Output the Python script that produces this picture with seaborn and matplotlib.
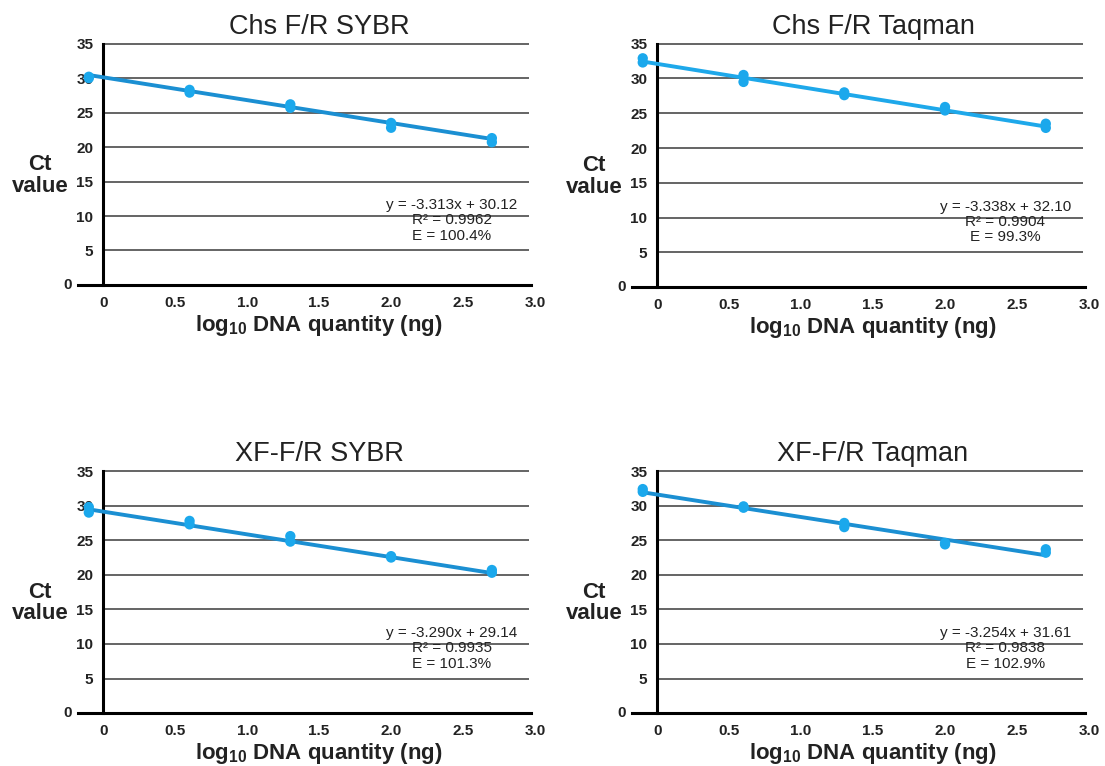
import numpy as np
import pandas as pd
import matplotlib
matplotlib.use("Agg")
import matplotlib.pyplot as plt
import seaborn as sns

sns.set_style("white")
plt.rcParams['font.family'] = ['Liberation Sans', 'DejaVu Sans']
plt.rcParams['mathtext.default'] = 'regular'

# replicate Ct values
x_chs_sybr = [-0.1, -0.1, 0.6, 0.6, 1.3, 1.3, 2.0, 2.0, 2.7, 2.7]
y_chs_sybr = [30.2, 30.0, 28.3, 27.9, 26.2, 25.7, 23.5, 22.8, 21.3, 20.7]

x_chs_taq = [-0.1, -0.1, 0.6, 0.6, 1.3, 1.3, 2.0, 2.0, 2.7, 2.7]
y_chs_taq = [32.9, 32.3, 30.5, 29.5, 28.0, 27.6, 25.9, 25.4, 23.5, 22.9]

x_xf_sybr = [-0.1, -0.1, 0.6, 0.6, 1.3, 1.3, 2.0, 2.0, 2.7, 2.7]
y_xf_sybr = [29.8, 29.0, 27.8, 27.3, 25.6, 24.8, 22.7, 22.5, 20.7, 20.3]

x_xf_taq = [-0.1, -0.1, 0.6, 0.6, 1.3, 1.3, 2.0, 2.0, 2.7, 2.7]
y_xf_taq = [32.4, 32.0, 29.9, 29.7, 27.5, 26.9, 24.6, 24.4, 23.7, 23.2]

titles = ["Chs F/R SYBR", "Chs F/R Taqman", "XF-F/R SYBR", "XF-F/R Taqman"]
slopes = [-3.313, -3.338, -3.290, -3.254]
intercepts = [30.12, 32.10, 29.14, 31.61]
r2 = ["0.9962", "0.9904", "0.9935", "0.9838"]
eff = ["100.4%", "99.3%", "101.3%", "102.9%"]

xs = [x_chs_sybr, x_chs_taq, x_xf_sybr, x_xf_taq]
ys = [y_chs_sybr, y_chs_taq, y_xf_sybr, y_xf_taq]
line_cols = ["#1b8fd2", "#1ea8ea", "#1b8fd2", "#1b8fd2"]
pt_col = "#1ba8ec"

fig = plt.figure(figsize=(11.05, 7.66), dpi=100)
boxes = [[0.0706, 0.628, 0.4136, 0.315],
         [0.5719, 0.625, 0.4136, 0.318],
         [0.0706, 0.069, 0.4136, 0.316],
         [0.5719, 0.069, 0.4136, 0.316]]

XL = -0.175
xfrac_mid = (1.5 - XL) / (3.0 - XL)

for i in range(4):
    ax = fig.add_axes(boxes[i])
    df = pd.DataFrame({"x": xs[i], "y": ys[i]})
    fx = np.array([-0.1, 2.7])
    fit = pd.DataFrame({"x": fx, "y": slopes[i] * fx + intercepts[i]})

    for yv in range(5, 40, 5):
        ax.hlines(yv, 0, 2.96, color="#3a3a3a", lw=1.1, zorder=1, clip_on=False)

    sns.lineplot(data=fit, x="x", y="y", ax=ax, color=line_cols[i], lw=2.8, zorder=3)
    sns.scatterplot(data=df, x="x", y="y", ax=ax, color=pt_col, s=55,
                    edgecolor="none", zorder=4, clip_on=False)

    ax.set_xlim(XL, 3.0)
    ax.set_ylim(0, 35)
    ax.spines['left'].set_position(('data', 0))
    ax.spines['bottom'].set_bounds(XL, 2.97)
    ax.spines['top'].set_visible(False)
    ax.spines['right'].set_visible(False)
    for s in ['left', 'bottom']:
        ax.spines[s].set_linewidth(2.2)
        ax.spines[s].set_color("black")
        ax.spines[s].set_zorder(2)

    ax.set_yticks(range(0, 40, 5))
    ax.set_yticklabels([""] + [str(v) for v in range(5, 40, 5)])
    ax.set_xticks([0, 0.5, 1.0, 1.5, 2.0, 2.5, 3.0])
    ax.set_xticklabels(["0", "0.5", "1.0", "1.5", "2.0", "2.5", "3.0"])
    ax.tick_params(axis='y', direction='out', length=5.5, width=2.0, color="black",
                   labelsize=11, pad=1.5)
    ax.tick_params(axis='x', length=0, labelsize=11, pad=8)
    for lab in ax.get_xticklabels() + ax.get_yticklabels():
        lab.set_fontweight("bold")
        lab.set_color("#222222")
    ax.text(XL - 0.04, 0, "0", ha="right", va="center", fontsize=11,
            fontweight="bold", color="#222222")

    ax.set_xlabel("log$_{10}$ DNA quantity (ng)", fontsize=16, fontweight="bold",
                  color="#222222")
    ax.xaxis.set_label_coords(xfrac_mid, -0.115)
    ax.set_ylabel("")
    ax.set_title(titles[i], fontsize=19.5, pad=7, x=xfrac_mid, color="#222222")
    ax.text(-0.083, 0.455, "Ct\nvalue", transform=ax.transAxes, ha="center",
            va="center", fontsize=16, fontweight="bold", linespacing=1.05,
            color="#222222")
    ax.text(2.42, 12.6, "y = %.3fx + %.2f\nR\u00b2 = %s\nE = %s"
            % (slopes[i], intercepts[i], r2[i], eff[i]),
            ha="center", va="top", fontsize=11, color="#222222", linespacing=1.12)

fig.savefig("out.png", dpi=100)
